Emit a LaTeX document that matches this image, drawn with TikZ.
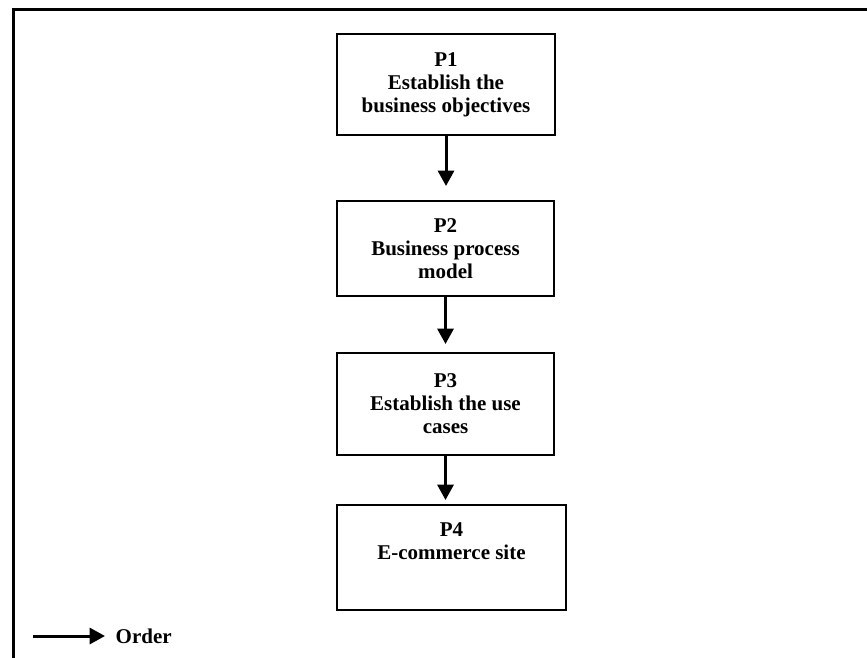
\documentclass[tikz,border=0pt]{standalone}
\usepackage{fontspec}
\setmainfont{Liberation Serif}
\usetikzlibrary{arrows.meta,calc}
\begin{document}
\begin{tikzpicture}[x=0.75pt,y=-0.75pt,
  box/.style={draw,line width=1.5pt,rectangle,inner sep=0pt},
  lbl/.style={font=\fontsize{15.75}{17.25}\selectfont\bfseries,align=center},
  flow/.style={-{Triangle[length=11.5pt,width=12pt]},line width=2.25pt}]
\useasboundingbox (0,0) rectangle (867,657);
\clip (0,0) rectangle (867,657);
% outer frame (runs past the right and bottom edges)
\draw[line width=2.5pt] (13.7,700) -- (13.7,9.3) -- (900,9.3);

% process boxes
\node[box,lbl,minimum width=163.5pt,minimum height=75.75pt] (p1) at (446,84.5)
  {P1\\Establish the\\business objectives};
\node[box,lbl,minimum width=162.75pt,minimum height=71.25pt] (p2) at (445.5,248.5)
  {P2\\Business process\\model};
\node[box,lbl,minimum width=162.75pt,minimum height=76.5pt] (p3) at (445.5,404)
  {P3\\Establish the use\\cases};
\node[box,minimum width=171.75pt,minimum height=78.75pt] (p4) at (451.5,557.5) {};
\node[lbl] (p4txt) at ($(p4.north)+(0,37)$) {P4\\E-commerce site};

% order arrows
\draw[flow,shorten >=10.5pt] (p1.south) -- (p1.south |- p2.north);
\draw[flow,shorten >=6pt] (p2.south) -- (p2.south |- p3.north);
\draw[flow,shorten >=3pt] (p3.south) -- (p3.south |- p4.north);

% legend
\coordinate (legA) at (33,636);
\coordinate (legB) at (105,636);
\draw[flow] (legA) -- (legB);
\node[lbl,anchor=west] (order) at (111,636) {Order};
\end{tikzpicture}
\end{document}
